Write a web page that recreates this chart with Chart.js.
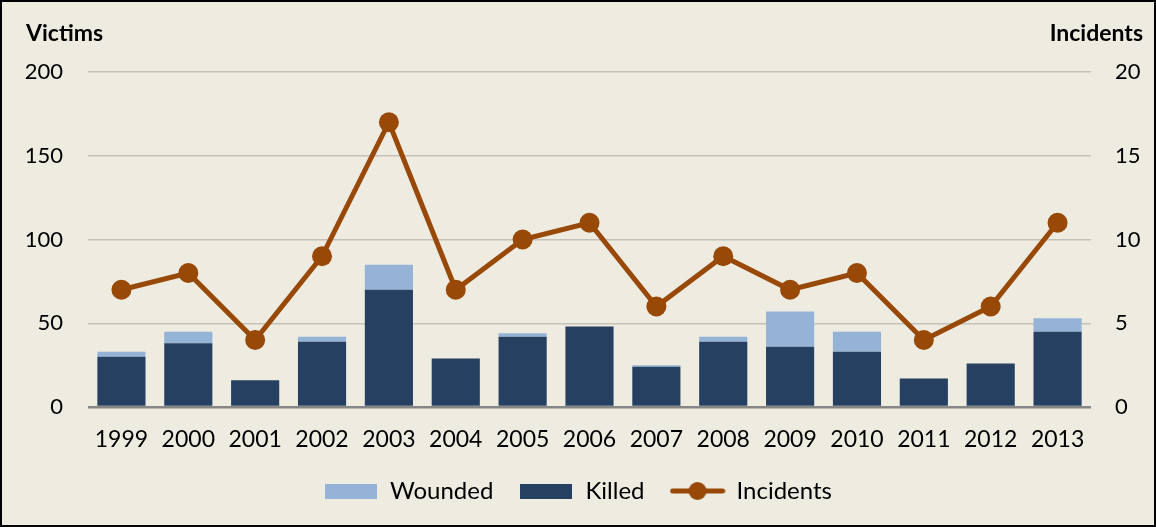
<!DOCTYPE html>
<html>
<head>
<meta charset="utf-8">
<script src="https://cdn.jsdelivr.net/npm/chart.js@4/dist/chart.umd.min.js"></script>
<style>
  html, body { margin: 0; padding: 0; background: #eeebe0; }
  #frame { width: 1156px; height: 527px; box-sizing: border-box; border: 2px solid #000; background: #eeebe0; }
  canvas { display: block; }
</style>
</head>
<body>
<div id="frame"><canvas id="chart" width="1152" height="523"></canvas></div>
<script>
const years = ['1999', '2000', '2001', '2002', '2003', '2004', '2005', '2006', '2007', '2008', '2009', '2010', '2011', '2012', '2013'];
const killed = [30, 38, 16, 39, 70, 29, 42, 48, 24, 39, 36, 33, 17, 26, 45];
const wounded = [3, 7, 0, 3, 15, 0, 2, 0, 1, 3, 21, 12, 0, 0, 8];
const incidents = [7, 8, 4, 9, 17, 7, 10, 11, 6, 9, 7, 8, 4, 6, 11];
const victimTicks = [0, 50, 100, 150, 200];
const incidentTicks = [0, 5, 10, 15, 20];

const killedColor = '#264061';
const woundedColor = '#95b3d7';
const lineColor = '#984807';
const font = 'Lato';

function swatch(w, h, draw) {
  const c = document.createElement('canvas');
  c.width = w;
  c.height = h;
  draw(c.getContext('2d'));
  return c;
}
const woundedIcon = swatch(52, 15, ctx => { ctx.fillStyle = woundedColor; ctx.fillRect(0, 0, 52, 15); });
const killedIcon = swatch(52, 15, ctx => { ctx.fillStyle = killedColor; ctx.fillRect(0, 0, 52, 15); });
const lineIcon = swatch(56, 20, ctx => {
  ctx.strokeStyle = lineColor;
  ctx.lineWidth = 5;
  ctx.lineCap = 'round';
  ctx.beginPath(); ctx.moveTo(3, 10); ctx.lineTo(53, 10); ctx.stroke();
  ctx.fillStyle = lineColor;
  ctx.beginPath(); ctx.arc(28, 10, 9, 0, Math.PI * 2); ctx.fill();
});
const icons = { Wounded: woundedIcon, Killed: killedIcon, Incidents: lineIcon };
const legendOrder = ['Wounded', 'Killed', 'Incidents'];

const axisTitles = {
  id: 'axisTitles',
  afterDraw(chart) {
    const ctx = chart.ctx;
    ctx.save();
    ctx.fillStyle = '#000';
    ctx.font = `bold 23px ${font}`;
    ctx.textBaseline = 'middle';
    ctx.textAlign = 'left';
    ctx.fillText('Victims', 24, 32);
    ctx.textAlign = 'right';
    ctx.fillText('Incidents', 1141, 32);
    ctx.restore();
  }
};

new Chart(document.getElementById('chart'), {
  data: {
    labels: years,
    datasets: [{
      type: 'bar',
      label: 'Killed',
      data: killed,
      backgroundColor: killedColor,
      yAxisID: 'y',
      order: 1,
      barPercentage: 0.72,
      categoryPercentage: 1
    }, {
      type: 'bar',
      label: 'Wounded',
      data: wounded,
      backgroundColor: woundedColor,
      yAxisID: 'y',
      order: 1,
      barPercentage: 0.72,
      categoryPercentage: 1
    }, {
      type: 'line',
      label: 'Incidents',
      data: incidents,
      borderColor: lineColor,
      backgroundColor: lineColor,
      borderWidth: 5,
      pointRadius: 10,
      pointHoverRadius: 10,
      pointBorderWidth: 0,
      tension: 0,
      yAxisID: 'y1',
      order: 0
    }]
  },
  options: {
    responsive: false,
    animation: false,
    layout: { padding: { top: 70, bottom: 12, left: 0, right: 0 } },
    plugins: {
      tooltip: { enabled: false },
      legend: {
        position: 'bottom',
        labels: {
          color: '#000',
          font: { family: font, size: 24 },
          usePointStyle: true,
          pointStyleWidth: 54,
          padding: 26,
          generateLabels(chart) {
            return chart.data.datasets.map((ds, i) => ({
              text: ds.label,
              datasetIndex: i,
              pointStyle: icons[ds.label],
              fillStyle: ds.backgroundColor,
              strokeStyle: ds.backgroundColor,
              lineWidth: 0,
              hidden: false
            }));
          },
          sort: (a, b) => legendOrder.indexOf(a.text) - legendOrder.indexOf(b.text)
        }
      }
    },
    scales: {
      x: {
        stacked: true,
        grid: { display: false },
        border: { display: false },
        ticks: { color: '#000', font: { family: font, size: 23 }, padding: 11, maxRotation: 0 },
        afterFit(scale) { scale.height = 46; }
      },
      y: {
        stacked: true,
        position: 'left',
        min: 0,
        max: 200,
        afterBuildTicks(scale) { scale.ticks = victimTicks.map(v => ({ value: v })); },
        grid: {
          drawTicks: false,
          color: ctx => ctx.tick && ctx.tick.value === 0 ? '#868686' : '#c3c1ba',
          lineWidth: ctx => ctx.tick && ctx.tick.value === 0 ? 2.5 : 1.5
        },
        border: { display: false },
        ticks: { color: '#000', font: { family: font, size: 22 }, padding: 25 },
        afterFit(scale) { scale.width = 86; }
      },
      y1: {
        position: 'right',
        min: 0,
        max: 20,
        afterBuildTicks(scale) { scale.ticks = incidentTicks.map(v => ({ value: v })); },
        grid: { display: false, drawTicks: false },
        border: { display: false },
        ticks: { color: '#000', font: { family: font, size: 22 }, padding: 24 },
        afterFit(scale) { scale.width = 63; }
      }
    }
  },
  plugins: [axisTitles]
});
</script>
</body>
</html>
